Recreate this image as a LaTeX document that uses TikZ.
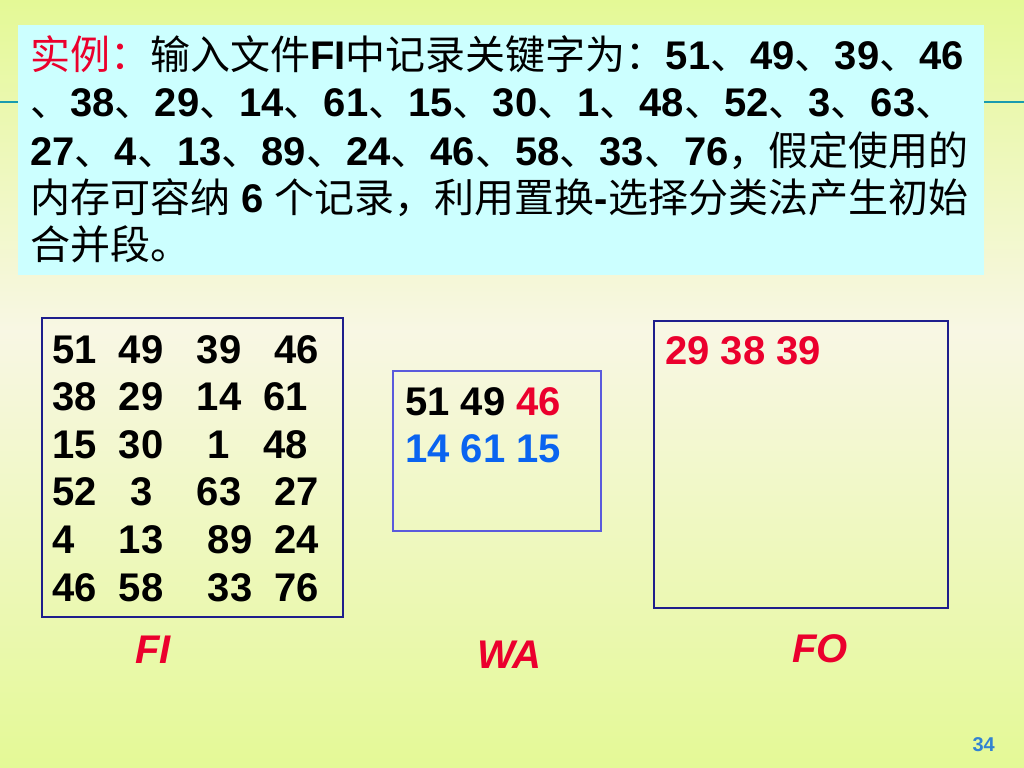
\documentclass[tikz,border=0pt]{standalone}
\usepackage{fontspec}
\setmainfont{Liberation Sans}
\newfontfamily\cjk{Noto Sans CJK SC}
\usepackage{tikz}

\newcommand{\zh}[1]{{\cjk\mdseries #1}}
\newcommand{\dun}{\zh{、}}

\definecolor{bgtop}{RGB}{228,249,150}
\definecolor{bgmid}{RGB}{248,247,228}
\definecolor{boxcyan}{RGB}{204,255,255}
\definecolor{rulecyan}{RGB}{25,155,175}
\definecolor{keyred}{RGB}{235,0,45}
\definecolor{keyblue}{RGB}{10,100,240}
\definecolor{navy}{RGB}{30,30,140}
\definecolor{wablue}{RGB}{90,90,220}
\definecolor{pageblue}{RGB}{50,130,210}

\tikzset{
  txt/.style={anchor=base west, inner sep=0pt, font=\fontsize{28.45}{34}\selectfont\bfseries},
  lbl/.style={anchor=base west, inner sep=0pt, text=keyred, font=\fontsize{28.45}{34}\selectfont\bfseries\itshape},
}

\begin{document}
\begin{tikzpicture}[x=0.025cm, y=-0.025cm]
    \useasboundingbox (0,0) rectangle (1024,768);
    \shade[top color=bgtop, bottom color=bgmid] (0,0) rectangle (1024,332);
    \shade[top color=bgmid, bottom color=bgtop] (0,330) rectangle (1024,768);
    \draw[rulecyan, line width=1.5pt] (0,102) -- (1024,102);
    \fill[boxcyan] (18,25) rectangle (984,275);
    \node[txt] (l1) at (30,70) {\textcolor{keyred}{\zh{实例：}}\zh{输入文件}FI\zh{中记录关键字为：}51\dun 49\dun 39\dun 46};
    \node[txt] (l2) at (30,117) {\dun 38\dun 29\dun 14\dun 61\dun 15\dun 30\dun 1\dun 48\dun 52\dun 3\dun 63\dun};
    \node[txt] (l3) at (30,165) {27\dun 4\dun 13\dun 89\dun 24\dun 46\dun 58\dun 33\dun 76\zh{，假定使用的}};
    \node[txt] (l4) at (30,212) {\zh{内存可容纳} 6 \zh{个记录，利用置换}-\zh{选择分类法产生初始}};
    \node[txt] (l5) at (30,259) {\zh{合并段。}};

    \draw[navy, line width=0.8pt] (42,318) rectangle (343,617);
    \node[txt] (fi1) at (52,363) {51~~49~~~39~~~46};
    \node[txt] (fi2) at (52,410) {38~~29~~~14~~61};
    \node[txt] (fi3) at (52,458) {15~~30~~~~1~~~48};
    \node[txt] (fi4) at (52,505) {52~~~3~~~~63~~~27};
    \node[txt] (fi5) at (52,553) {4~~~~13~~~~89~~24};
    \node[txt] (fi6) at (52,601) {46~~58~~~~33~~76};
    \node[lbl] (fi) at (135,663) {FI};

    \draw[wablue, line width=1pt] (393,371) rectangle (601,531);
    \node[txt] (wa1) at (405,415) {51 49 \textcolor{keyred}{46}};
    \node[txt, text=keyblue] (wa2) at (405,462) {14 61 15};
    \node[lbl] (wa) at (477,668) {WA};

    \draw[navy, line width=0.8pt] (654,321) rectangle (948,608);
    \node[txt, text=keyred] (fo1) at (665,364) {29 38 39};
    \node[lbl] (fo) at (792,662) {FO};

    \node[anchor=base east, inner sep=0pt, text=pageblue, font=\fontsize{14.2}{17}\selectfont\bfseries] (pg) at (995,751) {34};
\end{tikzpicture}
\end{document}
